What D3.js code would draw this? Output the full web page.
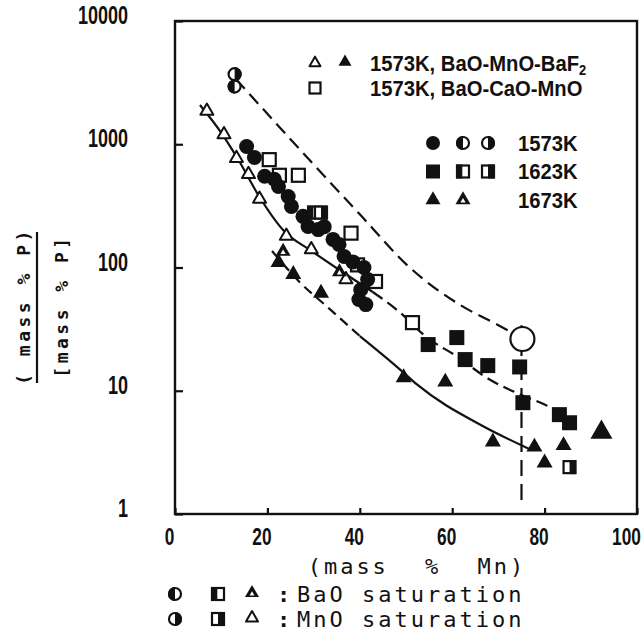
<!DOCTYPE html>
<html>
<head>
<meta charset="utf-8">
<script src="https://cdn.jsdelivr.net/npm/d3@7/dist/d3.min.js"></script>
<style>
  body { margin: 0; background: #fff; }
  svg { display: block; }
  .num { font-family: "Liberation Sans", Arial, sans-serif; font-weight: bold; }
  .mono { font-family: "DejaVu Sans Mono", monospace; }
</style>
</head>
<body>
<svg id="chart" width="644" height="643"></svg>
<script>
// values
// x = mass % Mn, y = (mass % P) / [mass % P]
const xTicks = [0, 20, 40, 60, 80, 100];
const yTicks = [1, 10, 100, 1000, 10000];

// 1573K, filled circles
const circleMn = [15.5, 17.2, 19.4, 21.5, 22.4, 24.5, 25.2, 27.7, 28.8, 31.0, 32.3, 34.2, 35.5, 36.6, 38.5, 40.9, 41.7, 40.2, 39.8, 41.3];
const circleP  = [960, 780, 550, 520, 455, 377, 313, 260, 215, 203, 214, 169, 154, 123, 111, 100, 80, 66, 55, 50];
// 1573K, BaO / MnO saturation (half circles)
const circleBaoMn = [12.9];
const circleBaoP  = [2940];
const circleMnoMn = [12.9];
const circleMnoP  = [3700];

// 1623K, filled squares
const squareMn = [54.8, 61.0, 62.8, 67.7, 74.6, 75.3, 83.2, 85.4];
const squareP  = [23.7, 27, 17.9, 16, 15.6, 8.0, 6.4, 5.5];
const squareBaoMn = [30.1];
const squareBaoP  = [279];
const squareMnoMn = [31.6, 85.4];
const squareMnoP  = [279, 2.4];

// 1673K, filled triangles
const triMn = [22.4, 25.6, 31.6, 49.5, 58.5, 68.8, 77.8, 80.0, 84.1];
const triP  = [110, 88, 62, 12.8, 11.8, 3.85, 3.5, 2.6, 3.6];
const triBaoMn = [23.4, 35.6];
const triBaoP  = [135, 92];

// 1573K, BaO-MnO-BaF2
const bafOpenMn = [6.9, 10.6, 13.3, 15.9, 18.3, 24.1, 29.5, 37.0];
const bafOpenP  = [1860, 1200, 770, 570, 360, 180, 140, 80];
const bafFilledMn = [92.3];
const bafFilledP  = [4.6];

// 1573K, BaO-CaO-MnO
const caoSqMn = [20.4, 22.6, 26.7, 38.1, 39.5, 43.4, 51.4];
const caoSqP  = [750, 560, 560, 190, 105, 77, 35.7];
const caoBigMn = [75.2];
const caoBigP  = [26.3];

// guide curves
const curveAMn = [13.2, 27, 40, 50.8, 61.6, 70.2, 73.4];
const curveAP  = [3375, 910, 270, 100, 50, 33.7, 29];
const curveBMn = [5.4, 10.2, 14.0, 17.9, 23.8, 29.2, 35.6, 42.8, 48.6, 54.4, 60.9, 68.0, 74.5, 81.0, 86.0];
const curveBP  = [2080, 1210, 718, 395, 194, 139, 95.4, 63.3, 43.5, 27.3, 19.1, 12.4, 9.4, 7.4, 5.6];
const curveDMn = [21.0, 27.0, 33.5, 40.0, 48.6, 52.3, 66.5, 76.7];
const curveDP  = [136, 76, 46, 27.8, 15, 11.3, 5.2, 3.37];
const saturationMn = 75;
const saturationP = [1.3, 34];

const INK = "#111";
const svg = d3.select("#chart");
svg.append("rect").attr("width", 644).attr("height", 643).attr("fill", "#fff");

const x = d3.scaleLinear().domain([0, 100]).range([175, 637]);
const y = d3.scaleLog().domain([1, 10000]).range([514, 21]);

const zip = (a, b) => a.map((v, i) => [v, b[i]]);

// the scanned lettering is narrow: squeeze text horizontally about x = 0
function squeeze(sel, sx) {
    sel.each(function () {
        const t = d3.select(this);
        const x0 = +t.attr("x") || 0;
        t.attr("x", x0 / sx).attr("transform", `scale(${sx},1)`);
    });
}

// axes
const gy = svg.append("g")
    .attr("transform", `translate(${x(0)},0)`)
    .call(d3.axisLeft(y).tickValues(yTicks).tickFormat(d3.format("d")).tickSize(-8).tickPadding(47))
    .attr("font-size", null).attr("font-family", null);
gy.select(".domain").remove();
gy.selectAll(".tick line").attr("stroke", INK).attr("stroke-width", 2.2);
gy.selectAll(".tick text")
    .attr("class", "num").attr("font-size", 25).attr("fill", INK)
    .attr("dy", "0.1em")
    .call(squeeze, 0.72);

const gx = svg.append("g")
    .attr("transform", `translate(0,${y(1)})`)
    .call(d3.axisBottom(x).tickValues(xTicks).tickSize(-6).tickPadding(14))
    .attr("font-size", null).attr("font-family", null);
gx.select(".domain").remove();
gx.selectAll(".tick line").attr("stroke", INK).attr("stroke-width", 2.2);
gx.selectAll(".tick text")
    .attr("class", "num").attr("font-size", 24).attr("fill", INK)
    .attr("x", d => d === 100 ? -11 : -6)
    .call(squeeze, 0.72);

// frame
svg.append("rect")
    .attr("x", x(0)).attr("y", y(10000))
    .attr("width", x(100) - x(0)).attr("height", y(1) - y(10000))
    .attr("fill", "none").attr("stroke", INK).attr("stroke-width", 2.4);

// curves
const line = d3.line().x(d => x(d[0])).y(d => y(d[1])).curve(d3.curveMonotoneX);
function drawCurve(pts, dash) {
    svg.append("path")
        .attr("d", line(pts))
        .attr("fill", "none").attr("stroke", INK).attr("stroke-width", 2.2)
        .attr("stroke-dasharray", dash);
}
drawCurve(zip(curveAMn, curveAP), "13,7");
const curveB = zip(curveBMn, curveBP);
drawCurve(curveB.filter(d => d[0] <= 42.8), null);
drawCurve(curveB.filter(d => d[0] >= 42.8), "12,6");
const curveD = zip(curveDMn, curveDP);
drawCurve(curveD.filter(d => d[0] <= 40), "10,6");
drawCurve(curveD.filter(d => d[0] >= 40), null);

svg.append("line")
    .attr("x1", x(saturationMn)).attr("x2", x(saturationMn))
    .attr("y1", y(saturationP[0])).attr("y2", y(saturationP[1]))
    .attr("stroke", INK).attr("stroke-width", 2.2).attr("stroke-dasharray", "16,8");

// marker shapes
function triPath(s) {
    const h = s * Math.sqrt(3) / 2;
    return `M0,${-h * 2 / 3}L${s / 2},${h / 3}L${-s / 2},${h / 3}Z`;
}
function marker(g, type, size) {
    const r = size / 2;
    switch (type) {
        case "circle":
            g.append("circle").attr("r", r).attr("fill", INK);
            break;
        case "circleOpen":
            g.append("circle").attr("r", r).attr("fill", "#fff").attr("stroke", INK).attr("stroke-width", 2.2);
            break;
        case "circleL":
        case "circleR":
            g.append("circle").attr("r", r - 1).attr("fill", "#fff").attr("stroke", INK).attr("stroke-width", 2.2);
            g.append("path").attr("fill", INK)
                .attr("d", `M0,${-r}A${r},${r} 0 0 ${type === "circleL" ? 0 : 1} 0,${r}Z`);
            break;
        case "square":
            g.append("rect").attr("x", -r).attr("y", -r).attr("width", size).attr("height", size).attr("fill", INK);
            break;
        case "squareOpen":
            g.append("rect").attr("x", -r + 1).attr("y", -r + 1).attr("width", size - 2).attr("height", size - 2)
                .attr("fill", "#fff").attr("stroke", INK).attr("stroke-width", 2.2);
            break;
        case "squareL":
        case "squareR":
            g.append("rect").attr("x", -r + 1).attr("y", -r + 1).attr("width", size - 2).attr("height", size - 2)
                .attr("fill", "#fff").attr("stroke", INK).attr("stroke-width", 2.2);
            g.append("rect").attr("x", type === "squareL" ? -r : 0).attr("y", -r)
                .attr("width", r * 0.9).attr("height", size).attr("fill", INK);
            break;
        case "tri":
            g.append("path").attr("d", triPath(size)).attr("fill", INK);
            break;
        case "triOpen":
            g.append("path").attr("d", triPath(size - 2)).attr("fill", "#fff")
                .attr("stroke", INK).attr("stroke-width", 2).attr("stroke-linejoin", "round");
            break;
        case "triBao":
            g.append("path").attr("d", triPath(size)).attr("fill", INK);
            g.append("path").attr("d", triPath(size * 0.35)).attr("fill", "#fff").attr("transform", "translate(0,1)");
            break;
    }
}
function plot(mn, p, type, size) {
    svg.append("g").selectAll("g")
        .data(zip(mn, p)).join("g")
        .attr("transform", d => `translate(${x(d[0])},${y(d[1])})`)
        .each(function () { marker(d3.select(this), type, size); });
}

plot(bafOpenMn, bafOpenP, "triOpen", 15);
plot(caoSqMn, caoSqP, "squareOpen", 15);
plot(circleMn, circleP, "circle", 15);
plot(squareBaoMn, squareBaoP, "squareL", 14);
plot(squareMnoMn, squareMnoP, "squareR", 14);
plot(squareMn, squareP, "square", 15);
plot(triMn, triP, "tri", 16);
plot(triBaoMn, triBaoP, "triBao", 15);
plot(bafFilledMn, bafFilledP, "tri", 22);
plot(circleBaoMn, circleBaoP, "circleL", 14);
plot(circleMnoMn, circleMnoP, "circleR", 14);
plot(caoBigMn, caoBigP, "circleOpen", 24);

// legends (inside plot)
function legendMark(px, py, type, size) {
    marker(svg.append("g").attr("transform", `translate(${px},${py})`), type, size);
}
legendMark(315, 63, "triOpen", 13);
legendMark(345, 62, "tri", 13);
legendMark(315, 88, "squareOpen", 13);
const legText = svg.append("g").attr("class", "num").attr("font-size", 22).attr("fill", INK);
const l1 = legText.append("text").attr("x", 370).attr("y", 71).text("1573K, BaO-MnO-BaF");
l1.append("tspan").attr("font-size", 14).attr("dy", 4).text("2");
legText.append("text").attr("x", 370).attr("y", 96).text("1573K, BaO-CaO-MnO");

const tempRows = [["circle", "circleL", "circleR"], ["square", "squareL", "squareR"], ["tri", "triBao"]];
const tempLabels = ["1573K", "1623K", "1673K"];
tempRows.forEach((row, i) => {
    const py = 143 + i * 28.5;
    row.forEach((t, j) => legendMark([433, 463, 488][j], py, t, t.startsWith("tri") ? 15 : 14));
    legText.append("text").attr("x", 518).attr("y", py + 8).text(tempLabels[i]);
});
legText.selectAll("text").call(squeeze, 0.92);

// axis titles
svg.append("text").attr("class", "mono").attr("font-size", 22).attr("fill", INK)
    .attr("x", 417).attr("y", 566).attr("text-anchor", "middle").attr("dominant-baseline", "central")
    .style("letter-spacing", "3px").style("word-spacing", "20px").style("white-space", "pre")
    .text("(mass % Mn)");

const yTitle = svg.append("g").attr("class", "mono").attr("font-size", 18).attr("font-weight", "bold").attr("fill", INK);
yTitle.append("text").attr("transform", "translate(23,306) rotate(-90)")
    .attr("text-anchor", "middle").attr("dominant-baseline", "central")
    .style("letter-spacing", "3.5px").text("( mass % P)");
yTitle.append("text").attr("transform", "translate(61,306) rotate(-90)")
    .attr("text-anchor", "middle").attr("dominant-baseline", "central")
    .style("letter-spacing", "3.5px").text("[mass % P]");
svg.append("line").attr("x1", 37).attr("x2", 37).attr("y1", 232).attr("y2", 383)
    .attr("stroke", INK).attr("stroke-width", 2.2);

// saturation key below the axis
const keyRows = [["circleL", "squareL", "triBao", "BaO saturation"], ["circleR", "squareR", "triOpen", "MnO saturation"]];
keyRows.forEach((row, i) => {
    const py = 594 + i * 25;
    legendMark(175, py, row[0], 14);
    legendMark(218, py, row[1], 14);
    legendMark(252, py - 1, row[2], 14);
    svg.append("text").attr("class", "mono").attr("font-size", 22).attr("font-weight", "bold").attr("fill", INK)
        .attr("x", 277).attr("y", py).attr("dominant-baseline", "central").text(":");
    svg.append("text").attr("class", "mono").attr("font-size", 22).attr("fill", INK)
        .attr("x", 297).attr("y", py).attr("dominant-baseline", "central")
        .style("letter-spacing", "3px").style("white-space", "pre")
        .text(row[3]);
});
</script>
</body>
</html>
